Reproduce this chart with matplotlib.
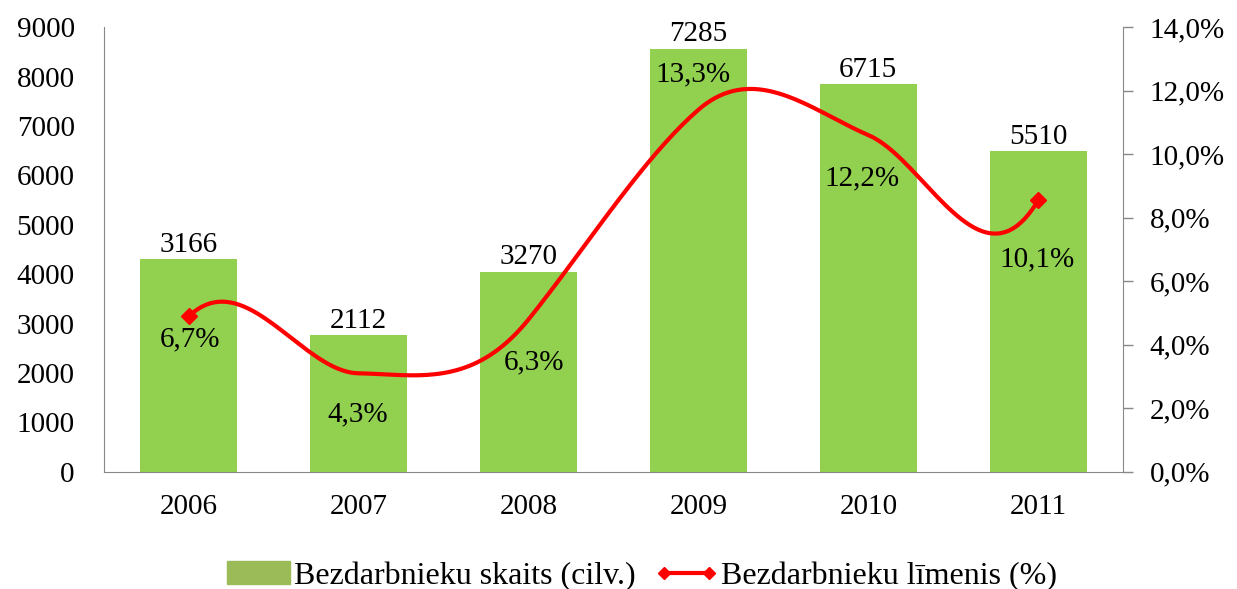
import numpy as np
import matplotlib
matplotlib.use('Agg')
import matplotlib.pyplot as plt
from matplotlib.lines import Line2D
from matplotlib.patches import Patch

# dati
years = ['2006', '2007', '2008', '2009', '2010', '2011']
skaits = [4300, 2760, 4050, 8560, 7850, 6490]          # stabiņu augstums (kā attēlā)
skaits_labels = ['3166', '2112', '3270', '7285', '6715', '5510']
limenis = [4.9, 3.1, 4.8, 11.4, 10.6, 8.55]            # līnijas vērtības, %
limenis_labels = ['6,7%', '4,3%', '6,3%', '13,3%', '12,2%', '10,1%']

# etiķešu nobīdes pikseļos (dx, dy)
pct_offsets = [(1, -23), (-1, -41), (5, -43), (-5, 35), (-6, -43), (-1, -59)]

plt.rcParams['font.family'] = ['Liberation Serif', 'DejaVu Serif']

GREEN = '#92D050'
RED = '#FF0000'
FS = 21


def smooth_line(x, y, tension=1.6, start_slope=5.0, end_slope=9.0, n=40):
    # gluda līnija (Hermite), līdzīga Excel "smoothed line"
    x = np.asarray(x, float)
    y = np.asarray(y, float)
    m = np.empty_like(y)
    m[1:-1] = tension * (y[2:] - y[:-2]) / 2
    m[0], m[-1] = start_slope, end_slope
    xs, ys = [], []
    for i in range(len(y) - 1):
        t = np.linspace(0, 1, n, endpoint=False)
        h00 = 2 * t ** 3 - 3 * t ** 2 + 1
        h10 = t ** 3 - 2 * t ** 2 + t
        h01 = -2 * t ** 3 + 3 * t ** 2
        h11 = t ** 3 - t ** 2
        ys.append(h00 * y[i] + h10 * m[i] + h01 * y[i + 1] + h11 * m[i + 1])
        xs.append(x[i] + (x[i + 1] - x[i]) * t)
    xs.append([x[-1]])
    ys.append([y[-1]])
    return np.concatenate(xs), np.concatenate(ys)


fig = plt.figure(figsize=(12.37, 5.89), dpi=100)
ax = fig.add_axes([0.084, 0.199, 0.824, 0.755])
ax2 = ax.twinx()

x = np.arange(len(years))
bars = ax.bar(x, skaits, width=0.57, color=GREEN, zorder=2)
ax.set_xlim(-0.5, len(years) - 0.5)
ax.set_ylim(0, 9000)
ax.set_yticks(range(0, 9001, 1000))
ax.set_xticks(x)
ax.set_xticklabels(years)

for b, lab in zip(bars, skaits_labels):
    ax.annotate(lab, (b.get_x() + b.get_width() / 2, b.get_height()),
                xytext=(0, 1), textcoords='offset points',
                ha='center', va='bottom', fontsize=FS, color='black')

# līnija
xs, ys = smooth_line(x, limenis)
ax2.plot(xs, ys, color=RED, lw=3, zorder=3, solid_capstyle='round')
ax2.plot([x[0], x[-1]], [limenis[0], limenis[-1]], ls='none', marker='D',
         ms=8, color=RED, zorder=4)
ax2.set_ylim(0, 14)
ax2.set_yticks(np.arange(0, 14.1, 2))
ax2.set_yticklabels([('%.1f%%' % v).replace('.', ',') for v in np.arange(0, 14.1, 2)])

for xi, v, lab, (dx, dy) in zip(x, limenis, limenis_labels, pct_offsets):
    ax2.annotate(lab, (xi, v), xytext=(dx, dy), textcoords='offset pixels',
                 ha='center', va='center', fontsize=FS, color='black', zorder=5)

# asis
for a in (ax, ax2):
    a.spines['top'].set_visible(False)
for s in ('left', 'bottom', 'right'):
    ax2.spines[s].set_color('#888888')
    ax.spines[s].set_color('#888888')
ax.spines['right'].set_visible(False)
ax2.spines['left'].set_visible(False)
ax2.spines['bottom'].set_visible(False)

ax.tick_params(axis='y', length=0, pad=21, labelsize=FS, colors='black')
ax.tick_params(axis='x', length=0, pad=16, labelsize=FS, colors='black')
ax2.tick_params(axis='y', length=7, width=1, color='#888888', pad=12, labelsize=FS,
                labelcolor='black')

handles = [Patch(color='#9BBB59'),
           Line2D([], [], color=RED, lw=3, marker='D', ms=6)]
fig.legend(handles, ['Bezdarbnieku skaits (cilv.)', 'Bezdarbnieku līmenis (%)'],
           loc='center', bbox_to_anchor=(0.519, 0.022), ncol=2, frameon=False,
           fontsize=23, numpoints=2, handlelength=2.0, handletextpad=0.1,
           columnspacing=0.6)

fig.savefig('out.png', dpi=100)
